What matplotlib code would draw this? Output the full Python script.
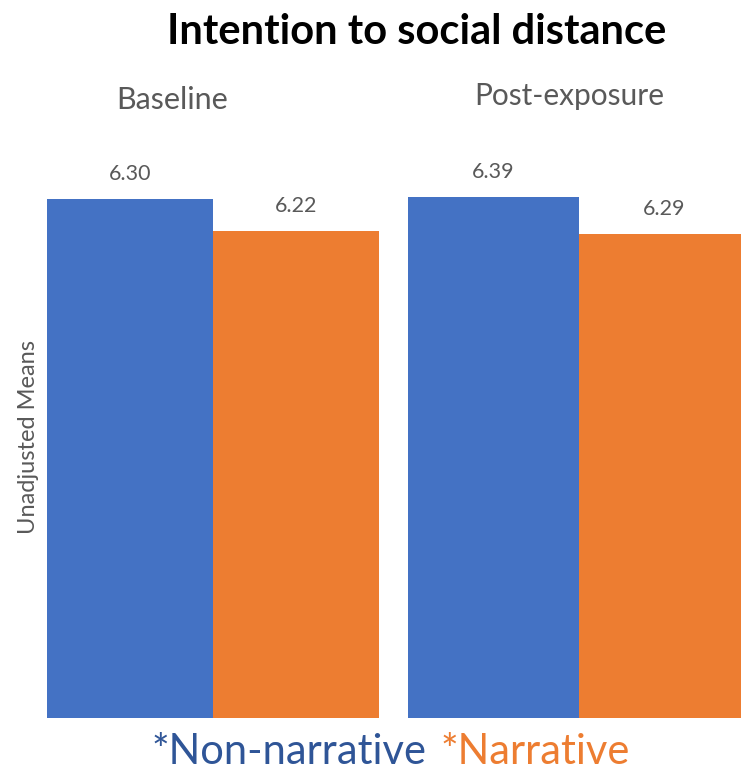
import matplotlib
matplotlib.use("Agg")
import matplotlib.pyplot as plt

# Data
panels = ["Baseline", "Post-exposure"]
groups = ["*Non-narrative", "*Narrative"]
baseline_means = [6.30, 6.22]
post_means = [6.39, 6.29]
panel_values = [baseline_means, post_means]
# vertical range of each panel
ylims = [(5.0, 6.448), (5.0, 6.542)]

BLUE = "#4472C4"
ORANGE = "#ED7D31"
GREY = "#595959"
FONT = ["Lato", "DejaVu Sans"]

W, H = 741, 773
fig = plt.figure(figsize=(W / 100, H / 100), dpi=100)

def frac_box(x0, x1, ytop, ybot):
    return [x0 / W, 1 - ybot / H, (x1 - x0) / W, (ybot - ytop) / H]

boxes = [frac_box(47, 379, 140, 718), frac_box(408, 750, 140, 718)]
title_x = [172, 569]
title_y = [100, 96]
title_size = [22, 21.5]

for i, (name, vals) in enumerate(zip(panels, panel_values)):
    ax = fig.add_axes(boxes[i])
    bars = ax.bar([0, 1], vals, width=1.0, color=[BLUE, ORANGE],
                  bottom=0, align="center")
    ax.set_xlim(-0.5, 1.5)
    ax.set_ylim(*ylims[i])
    ax.axis("off")
    for b, v in zip(bars, vals):
        ax.annotate(f"{v:.2f}", (b.get_x() + b.get_width() / 2, v),
                    xytext=(0, 11), textcoords="offset points",
                    ha="center", va="bottom", fontsize=15.5,
                    color=GREY, family=FONT)
    fig.text(title_x[i] / W, 1 - title_y[i] / H, name, ha="center",
             va="center", fontsize=title_size[i], color=GREY, family=FONT)

fig.text(417 / W, 1 - 32 / H, "Intention to social distance", ha="center",
         va="center", fontsize=30, fontweight="bold", color="black",
         family=FONT)

fig.text(29 / W, 1 - 437 / H, "Unadjusted Means", rotation=90,
         ha="center", va="center", fontsize=17, color=GREY, family=FONT)

# two-colour group key below the bars
t1 = fig.text(151 / W, 1 - 752 / H, groups[0], ha="left", va="center",
              fontsize=30, color="#2F5597", family=FONT)
fig.canvas.draw()
bb = t1.get_window_extent()
gap = 14
fig.text((bb.x1 + gap) / W, 1 - 752 / H, groups[1], ha="left", va="center",
         fontsize=30, color=ORANGE, family=FONT)

fig.savefig("out.png", dpi=100, facecolor="white")
